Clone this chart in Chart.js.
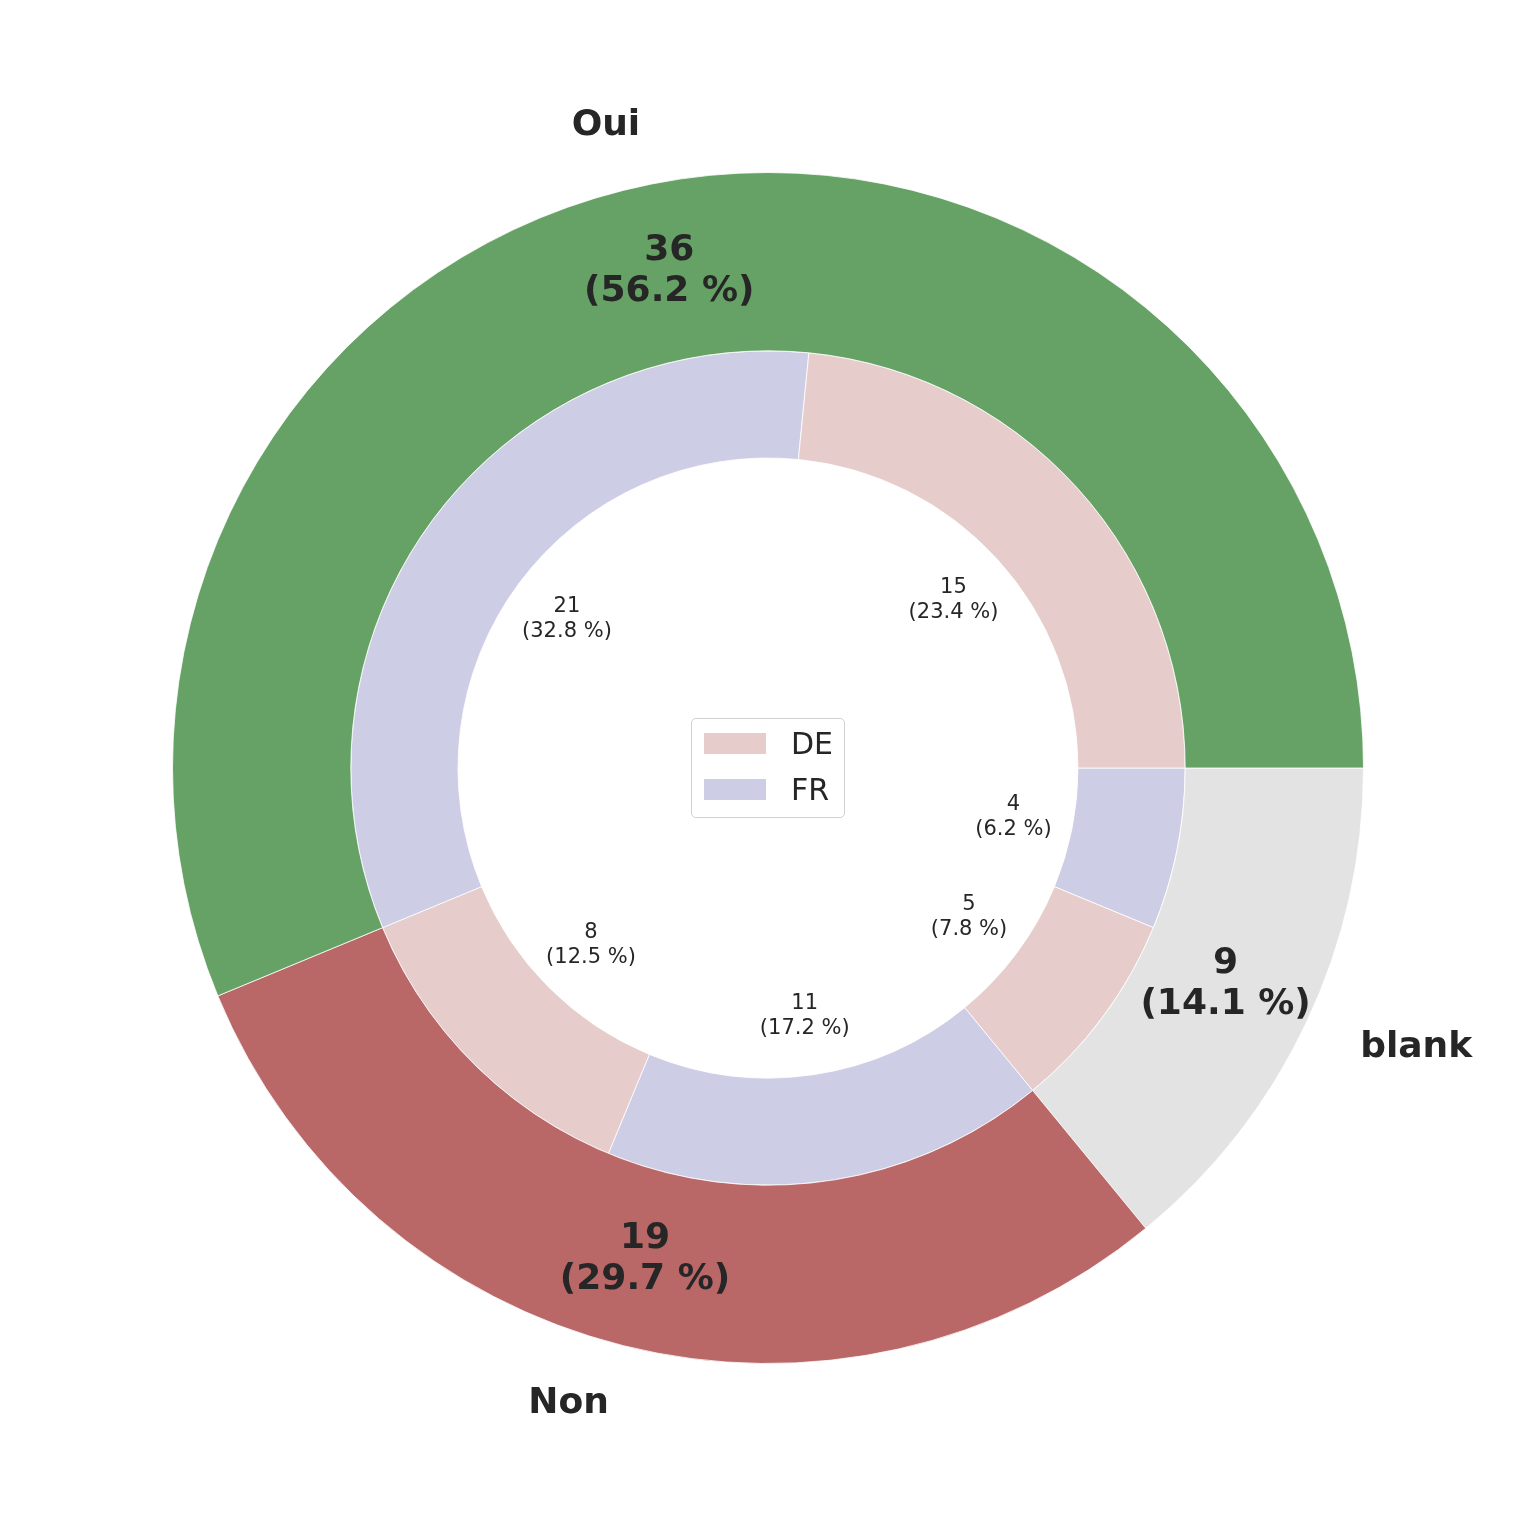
<!DOCTYPE html>
<html>
<head>
<meta charset="utf-8">
<script src="https://cdn.jsdelivr.net/npm/chart.js@4/dist/chart.umd.min.js"></script>
<style>
  html, body { margin: 0; padding: 0; background: #fff; }
  #wrap { position: relative; width: 1536px; height: 1536px; }
  #legend {
    position: absolute; left: 691px; top: 718px; width: 154px; height: 100px;
    border: 1px solid #d0d0d0; border-radius: 5px; background: rgba(255,255,255,0.8);
    box-sizing: border-box; font-family: "DejaVu Sans", sans-serif; font-size: 30px; color: #262626;
  }
  #legend .row { position: absolute; left: 12px; height: 36px; display: flex; align-items: center; }
  #legend .sw { width: 62px; height: 21px; margin-right: 25px; }
</style>
</head>
<body>
<div id="wrap">
  <canvas id="chart"></canvas>
  <div id="legend"></div>
</div>
<script>
/* --------------------------------------------
   Data (listed clockwise from 3 o'clock, i.e. reversed
   from the counter-clockwise order of the original)
-------------------------------------------- */
const outerLabels = ["blank", "Non", "Oui"];
const outerValues = [9, 19, 36];
const outerColors = ["#e3e3e3", "#b96767", "#66a266"];

const innerLabels = ["FR", "DE", "FR", "DE", "FR", "DE"];
const innerValues = [4, 5, 11, 8, 21, 15];

const legendLabels = ["DE", "FR"];
const legendColors = ["#e7cccc", "#cecde6"];

const colorOf = (name) => legendColors[legendLabels.indexOf(name)];
const TEXT = "#262626";
const FONT = '"DejaVu Sans", sans-serif';

/* --------------------------------------------
   Utils
-------------------------------------------- */
// one decimal, ties to even (like printf-style formatting of exact halves)
const pctText = (v, total) => {
  const scaled = (v * 1000) / total;
  const fl = Math.floor(scaled);
  const diff = scaled - fl;
  let r;
  if (Math.abs(diff - 0.5) < 1e-9) r = fl % 2 === 0 ? fl : fl + 1;
  else r = Math.round(scaled);
  return `(${(r / 10).toFixed(1)} %)`;
};

const drawLines = (ctx, lines, x, y, lh) => {
  const top = y - ((lines.length - 1) * lh) / 2;
  lines.forEach((l, i) => ctx.fillText(l, x, top + i * lh));
};

/* --------------------------------------------
   Label plugin: reads arc geometry from the chart
-------------------------------------------- */
const pieLabels = {
  id: "pieLabels",
  afterDatasetsDraw(chart) {
    const ctx = chart.ctx;
    ctx.save();
    ctx.fillStyle = TEXT;
    ctx.textBaseline = "middle";

    // outer ring
    const outerMeta = chart.getDatasetMeta(0);
    const outerTotal = outerValues.reduce((a, b) => a + b, 0);
    outerMeta.data.forEach((arc, i) => {
      const { x, y, startAngle, endAngle, outerRadius } = arc.getProps(
        ["x", "y", "startAngle", "endAngle", "outerRadius"], true);
      const mid = (startAngle + endAngle) / 2;
      const c = Math.cos(mid), s = Math.sin(mid);

      ctx.font = `bold 36px ${FONT}`;
      ctx.textAlign = "center";
      const r1 = outerRadius * 0.85;
      drawLines(ctx, [String(outerValues[i]), pctText(outerValues[i], outerTotal)],
        x + c * r1, y + s * r1, 41);

      const r2 = outerRadius * 1.1;
      ctx.textAlign = c >= 0 ? "left" : "right";
      ctx.fillText(outerLabels[i], x + c * r2, y + s * r2);
    });

    // inner ring
    const innerMeta = chart.getDatasetMeta(1);
    const innerTotal = innerValues.reduce((a, b) => a + b, 0);
    innerMeta.data.forEach((arc, i) => {
      const { x, y, startAngle, endAngle, outerRadius } = arc.getProps(
        ["x", "y", "startAngle", "endAngle", "outerRadius"], true);
      const mid = (startAngle + endAngle) / 2;
      const r = outerRadius * 0.6;
      ctx.font = `21px ${FONT}`;
      ctx.textAlign = "center";
      drawLines(ctx, [String(innerValues[i]), pctText(innerValues[i], innerTotal)],
        x + Math.cos(mid) * r, y + Math.sin(mid) * r, 25);
    });

    ctx.restore();
  },
};

/* --------------------------------------------
   Chart
-------------------------------------------- */
new Chart(document.getElementById("chart"), {
  type: "doughnut",
  data: {
    labels: outerLabels,
    datasets: [
      {
        data: outerValues,
        backgroundColor: outerColors,
        borderColor: "rgba(255,255,255,0.8)",
        borderWidth: 1,
        weight: 178,
      },
      {
        data: innerValues,
        backgroundColor: innerLabels.map(colorOf),
        borderColor: "rgba(255,255,255,0.8)",
        borderWidth: 1,
        weight: 107,
      },
    ],
  },
  options: {
    responsive: true,
    maintainAspectRatio: false,
    animation: false,
    rotation: 90,
    cutout: 310,
    layout: { padding: 172 },
    plugins: {
      legend: { display: false },
      tooltip: { enabled: false },
    },
  },
  plugins: [pieLabels],
});

/* --------------------------------------------
   Legend
-------------------------------------------- */
const legend = document.getElementById("legend");
legendLabels.forEach((name, i) => {
  const row = document.createElement("div");
  row.className = "row";
  row.style.top = `${6 + i * 46}px`;
  row.innerHTML = `<span class="sw" style="background:${legendColors[i]}"></span><span>${name}</span>`;
  legend.appendChild(row);
});
</script>
</body>
</html>
